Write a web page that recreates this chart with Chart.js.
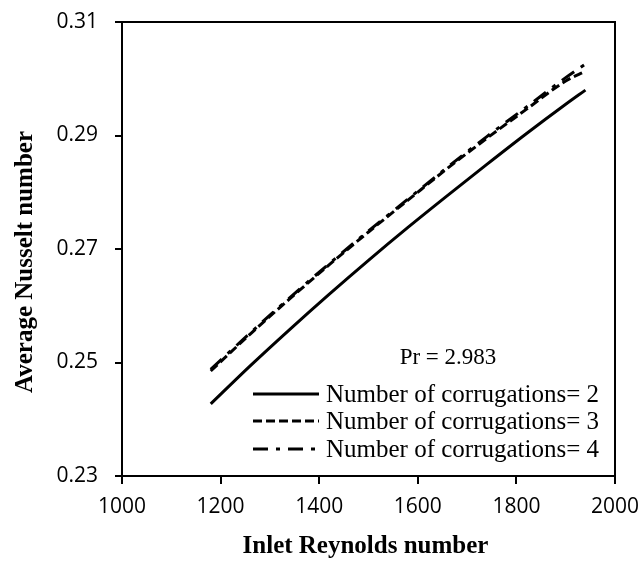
<!DOCTYPE html>
<html>
<head>
<meta charset="utf-8">
<script src="https://cdn.jsdelivr.net/npm/chart.js@4.4.1/dist/chart.umd.min.js"></script>
<style>
  html, body { margin: 0; padding: 0; background: #fff; }
  #wrap { width: 642px; height: 570px; }
</style>
</head>
<body>
<div id="wrap"><canvas id="c" width="642" height="570"></canvas></div>
<script>
// Inlet Reynolds number (x)
const reynolds = [1180, 1260, 1340, 1420, 1500, 1580, 1660, 1740, 1820, 1900, 1940];
// Average Nusselt number per series
const nuCorr2 = [0.2427, 0.2494, 0.2558, 0.2620, 0.2680, 0.2738, 0.2794, 0.2849, 0.2903, 0.2955, 0.2980];
const nuCorr3 = [0.2485, 0.2550, 0.2612, 0.2672, 0.2730, 0.2786, 0.2842, 0.2895, 0.2946, 0.2996, 0.3013];
const nuCorr4 = [0.2488, 0.2552, 0.2614, 0.2674, 0.2732, 0.2788, 0.2844, 0.2898, 0.2950, 0.3002, 0.3026];
const seriesLabels = ["Number of corrugations= 2", "Number of corrugations= 3", "Number of corrugations= 4"];
const annotationText = "Pr = 2.983";
const xTitle = "Inlet Reynolds number";
const yTitle = "Average Nusselt number";

const toPts = (ys) => reynolds.map((x, i) => ({ x: x, y: ys[i] }));

const boxPlugin = {
  id: 'boxAndText',
  afterDraw(chart) {
    const ctx = chart.ctx;
    const a = chart.chartArea;
    ctx.save();
    // frame
    ctx.strokeStyle = '#000';
    ctx.lineWidth = 2;
    ctx.strokeRect(a.left, a.top, a.right - a.left, a.bottom - a.top);

    // axis titles
    ctx.fillStyle = '#000';
    ctx.font = 'bold 25px "Liberation Serif", "Times New Roman", serif';
    ctx.textAlign = 'center';
    ctx.textBaseline = 'middle';
    ctx.fillText(xTitle, (a.left + a.right) / 2 - 3, 547);
    ctx.save();
    ctx.translate(26, 262);
    ctx.rotate(-Math.PI / 2);
    ctx.fillText(yTitle, 0, 0);
    ctx.restore();

    // annotation
    ctx.font = '23px "Liberation Serif", "Times New Roman", serif';
    ctx.textAlign = 'center';
    ctx.textBaseline = 'alphabetic';
    ctx.fillText(annotationText, 448, 364);

    // legend
    const rowsY = [394, 421, 449];
    ctx.font = '25px "Liberation Serif", "Times New Roman", serif';
    ctx.textAlign = 'left';
    chart.data.datasets.forEach((ds, i) => {
      const y = rowsY[i];
      ctx.save();
      ctx.strokeStyle = ds.borderColor;
      ctx.lineWidth = ds.borderWidth;
      ctx.setLineDash(ds.borderDash || []);
      ctx.beginPath();
      ctx.moveTo(253, y);
      ctx.lineTo(319, y);
      ctx.stroke();
      ctx.restore();
      ctx.textBaseline = 'middle';
      ctx.fillText(ds.label, 326, y + 1);
    });
    ctx.restore();
  }
};

new Chart(document.getElementById('c'), {
  type: 'line',
  data: {
    datasets: [
      { label: seriesLabels[0], data: toPts(nuCorr2), borderColor: '#000', borderWidth: 3, borderDash: [], pointRadius: 0, cubicInterpolationMode: 'monotone', fill: false },
      { label: seriesLabels[1], data: toPts(nuCorr3), borderColor: '#000', borderWidth: 3, borderDash: [9, 4], pointRadius: 0, cubicInterpolationMode: 'monotone', fill: false },
      { label: seriesLabels[2], data: toPts(nuCorr4), borderColor: '#000', borderWidth: 3, borderDash: [15, 8, 4, 8], pointRadius: 0, cubicInterpolationMode: 'monotone', fill: false }
    ]
  },
  options: {
    responsive: false,
    animation: false,
    layout: { padding: { left: 0, top: 22, right: 27, bottom: 0 } },
    plugins: { legend: { display: false }, tooltip: { enabled: false } },
    scales: {
      x: {
        type: 'linear',
        min: 1000, max: 2000,
        ticks: { stepSize: 200, color: '#000', padding: 10, font: { family: '"Open Sans", sans-serif', size: 21 }, maxRotation: 0, callback: (v) => String(v) },
        grid: { drawOnChartArea: false, drawTicks: true, tickLength: 8, color: '#000', lineWidth: 2 },
        border: { display: true, color: '#000', width: 2 },
        afterFit(s) { s.height = 94; s.paddingLeft = 0; s.paddingRight = 0; }
      },
      y: {
        type: 'linear',
        min: 0.23, max: 0.31,
        ticks: { stepSize: 0.02, color: '#000', padding: 17, font: { family: '"Open Sans", sans-serif', size: 21 }, callback: (v) => Number(v).toFixed(2) },
        grid: { drawOnChartArea: false, drawTicks: true, tickLength: 7, color: '#000', lineWidth: 2 },
        border: { display: true, color: '#000', width: 2 },
        afterFit(s) { s.width = 122; s.paddingTop = 0; s.paddingBottom = 0; }
      }
    }
  },
  plugins: [boxPlugin]
});
</script>
</body>
</html>
